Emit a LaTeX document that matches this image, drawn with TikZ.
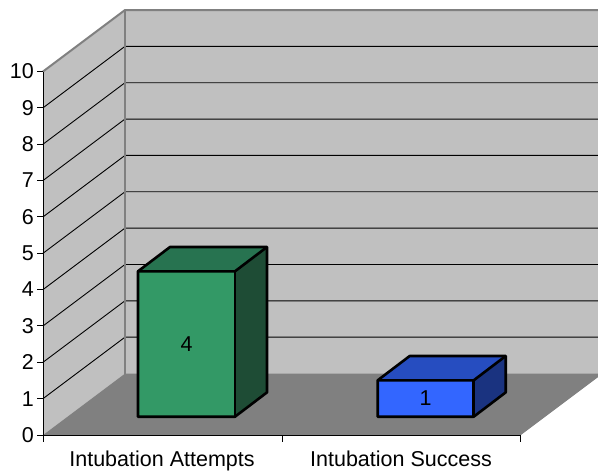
\documentclass[tikz,border=0pt]{standalone}
\usepackage{fontspec}
\setmainfont{Liberation Sans}
\begin{document}
\begin{tikzpicture}[x=1pt,y=-1pt,
  wall/.style={fill=wallgray},
  edge/.style={draw=edgegray,line width=2pt},
  grid/.style={draw=black,line width=0.9pt},
  barline/.style={draw=black,line width=2.6pt,line join=round},
  lbl/.style={font=\fontsize{21.5}{23}\selectfont,inner sep=0pt},
  tick/.style={draw=black,line width=1pt}]
\definecolor{wallgray}{HTML}{C0C0C0}
\definecolor{floorgray}{HTML}{808080}
\definecolor{edgegray}{HTML}{808080}
\definecolor{gfront}{HTML}{339966}
\definecolor{gtop}{HTML}{277350}
\definecolor{gside}{HTML}{1E4C35}
\definecolor{bfront}{HTML}{3366FF}
\definecolor{btop}{HTML}{264DC0}
\definecolor{bside}{HTML}{1A3380}
\useasboundingbox (0,0) rectangle (598,471);
\fill[white] (0,0) rectangle (598,471);
% walls
\fill[wallgray] (43,435) -- (43,71.5) -- (125,10) -- (125,373.5) -- cycle;
\fill[wallgray] (125,10) rectangle (598,373.5);
\fill[floorgray] (43,435) -- (520,435) -- (598,376.5) -- (598,373.5) -- (125,373.5) -- cycle;
% gridlines
\foreach \v in {1,...,9}{
  \draw[grid] (43,{435-36.35*\v}) -- (125,{373.5-36.35*\v}) -- (598,{373.5-36.35*\v});
}
% edges
\draw[edge] (43,71.5) -- (125,10) -- (598,10);
\draw[edge] (125,10) -- (125,373.5);
\draw[draw=edgegray,line width=1pt] (520,435) -- (598,376.5);
% axes
\draw[tick] (43,71.5) -- (43,435) -- (520,435);
\foreach \v in {0,...,10}{
  \draw[tick] (37,{435-36.35*\v}) -- (43,{435-36.35*\v});
  \node[lbl,anchor=east] (y\v) at (34,{435-36.35*\v}) {\v};
}
\foreach \x in {43,282,520}{
  \draw[tick] (\x,435) -- (\x,442);
}
% green bar
\fill[gtop] (138,271.3) -- (170,247) -- (267,247) -- (235,271.3) -- cycle;
\fill[gside] (235,271.3) -- (267,247) -- (267,392.4) -- (235,416.7) -- cycle;
\fill[gfront] (138,271.3) rectangle (235,416.7);
\draw[barline] (138,416.7) -- (138,271.3) -- (170,247) -- (267,247) -- (267,392.4) -- (235,416.7) -- cycle;
\draw[barline] (138,271.3) -- (235,271.3) -- (267,247);
\draw[barline] (235,271.3) -- (235,416.7);
\node[lbl] (v4) at (186.5,344) {4};
% blue bar
\fill[btop] (377.7,380.3) -- (409.7,356) -- (505.7,356) -- (473.7,380.3) -- cycle;
\fill[bside] (473.7,380.3) -- (505.7,356) -- (505.7,392.4) -- (473.7,416.7) -- cycle;
\fill[bfront] (377.7,380.3) rectangle (473.7,416.7);
\draw[barline] (377.7,416.7) -- (377.7,380.3) -- (409.7,356) -- (505.7,356) -- (505.7,392.4) -- (473.7,416.7) -- cycle;
\draw[barline] (377.7,380.3) -- (473.7,380.3) -- (505.7,356);
\draw[barline] (473.7,380.3) -- (473.7,416.7);
\node[lbl] (v1) at (425.7,398.5) {1};
% category labels
\node[lbl,anchor=base] (c1) at (162,466.5) {Intubation Attempts};
\node[lbl,anchor=base] (c2) at (401,466.5) {Intubation Success};
\end{tikzpicture}
\end{document}
